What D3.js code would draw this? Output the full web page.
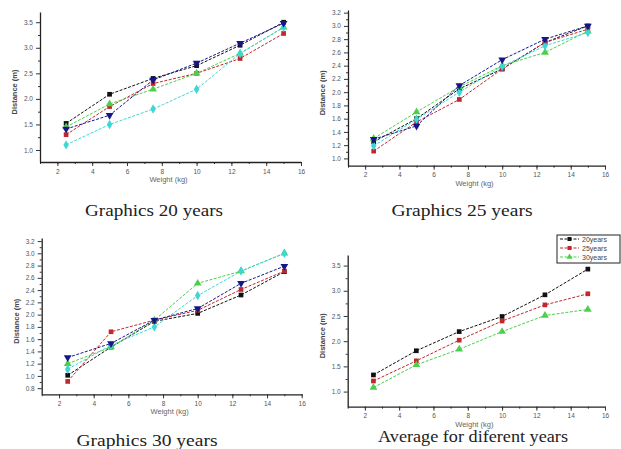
<!DOCTYPE html>
<html>
<head>
<meta charset="utf-8">
<style>
    body {
        margin: 0;
        background-color: #FFF;
    }
    svg text {
        font-family: "Liberation Sans", Arial, sans-serif;
        fill: #333;
    }
    .title {
        font-family: "Liberation Serif", "Times New Roman", serif !important;
        fill: #222 !important;
    }
</style>
</head>
<body>
<div id="chartArea"></div>
<script src="https://cdnjs.cloudflare.com/ajax/libs/d3/7.8.5/d3.min.js"></script>
<script>
    /* -----------------------------------
        data
    ----------------------------------- */
    var weights = [2.5, 5, 7.5, 10, 12.5, 15];
    var xTicks = [2, 4, 6, 8, 10, 12, 14, 16];

    // Graphics 20 years
    var g20Black = [1.52, 2.09, 2.40, 2.65, 3.05, 3.50];
    var g20Red   = [1.30, 1.85, 2.30, 2.50, 2.79, 3.28];
    var g20Blue  = [1.41, 1.68, 2.37, 2.70, 3.09, 3.48];
    var g20Green = [1.45, 1.90, 2.19, 2.50, 2.89, 3.40];
    var g20Cyan  = [1.10, 1.50, 1.80, 2.19, 2.89, 3.40];
    var yTicks20 = [1.0, 1.5, 2.0, 2.5, 3.0, 3.5];

    // Graphics 25 years
    var g25Black = [1.25, 1.60, 2.05, 2.35, 2.75, 3.00];
    var g25Red   = [1.11, 1.55, 1.89, 2.35, 2.75, 2.95];
    var g25Blue  = [1.29, 1.49, 2.10, 2.49, 2.80, 3.00];
    var g25Green = [1.30, 1.70, 2.08, 2.40, 2.60, 2.92];
    var g25Cyan  = [1.19, 1.59, 2.00, 2.39, 2.70, 2.90];
    var yTicks25 = [1.0, 1.2, 1.4, 1.6, 1.8, 2.0, 2.2, 2.4, 2.6, 2.8, 3.0, 3.2];

    // Graphics 30 years
    var g30Black = [1.01, 1.47, 1.89, 2.02, 2.32, 2.70];
    var g30Red   = [0.91, 1.72, 1.91, 2.07, 2.41, 2.71];
    var g30Blue  = [1.30, 1.53, 1.91, 2.10, 2.51, 2.79];
    var g30Green = [1.20, 1.47, 1.91, 2.51, 2.71, 3.00];
    var g30Cyan  = [1.11, 1.50, 1.80, 2.31, 2.71, 3.00];
    var yTicks30 = [0.8, 1.0, 1.2, 1.4, 1.6, 1.8, 2.0, 2.2, 2.4, 2.6, 2.8, 3.0, 3.2];

    // Average for different years
    var avgNames = ["20years", "25years", "30years"];
    var avg20 = [1.33, 1.81, 2.19, 2.49, 2.92, 3.43];
    var avg25 = [1.21, 1.61, 2.02, 2.40, 2.72, 2.94];
    var avg30 = [1.08, 1.53, 1.84, 2.19, 2.51, 2.63];
    var yTicksAvg = [1.0, 1.5, 2.0, 2.5, 3.0, 3.5];

    /* -----------------------------------
        styles
    ----------------------------------- */
    var sBlack = {color: "#111", symbol: d3.symbolSquare, rot: 0};
    var sRed   = {color: "#c0282d", symbol: d3.symbolSquare, rot: 0};
    var sBlue  = {color: "#16168a", symbol: d3.symbolTriangle, rot: 180};
    var sGreen = {color: "#4ccf4c", symbol: d3.symbolTriangle, rot: 0};
    var sCyan  = {color: "#3ed6d6", symbol: d3.symbolDiamond, rot: 0};

    var panels = [
        {left: 40, right: 301, top: 12, bottom: 162, yDomain: [0.765, 3.70], yTicks: yTicks20,
         title: "Graphics 20 years", tx: 154, ty: 216, tw: 138,
         series: [[g20Black, sBlack], [g20Red, sRed], [g20Green, sGreen], [g20Cyan, sCyan], [g20Blue, sBlue]]},
        {left: 348, right: 605, top: 10, bottom: 165.7, yDomain: [0.89, 3.24], yTicks: yTicks25,
         title: "Graphics 25 years", tx: 462, ty: 216, tw: 141,
         series: [[g25Black, sBlack], [g25Red, sRed], [g25Green, sGreen], [g25Cyan, sCyan], [g25Blue, sBlue]]},
        {left: 41.7, right: 301.7, top: 238, bottom: 394.3, yDomain: [0.70, 3.25], yTicks: yTicks30,
         title: "Graphics 30 years", tx: 147, ty: 446, tw: 141,
         series: [[g30Black, sBlack], [g30Red, sRed], [g30Green, sGreen], [g30Cyan, sCyan], [g30Blue, sBlue]]},
        {left: 347.7, right: 605, top: 255, bottom: 406.7, yDomain: [0.70, 3.71], yTicks: yTicksAvg,
         title: "Average for diferent years", tx: 473, ty: 442, tw: 190,
         series: [[avg20, sBlack], [avg25, sRed], [avg30, sGreen]], legend: true}
    ];

    /* -----------------------------------
        draw
    ----------------------------------- */
    var width = 621, height = 449;

    var svg = d3.select("#chartArea").append("svg")
        .attr("width", width)
        .attr("height", height);

    panels.forEach(function(p, pi) {
        var x = d3.scaleLinear().domain([1, 16]).range([p.left, p.right]);
        var y = d3.scaleLinear().domain(p.yDomain).range([p.bottom, p.top]);
        var g = svg.append("g");

        // minor ticks
        var xMinor = d3.range(1, 17, 1);
        g.append("g")
            .attr("transform", "translate(0," + p.bottom + ")")
            .call(d3.axisBottom(x).tickValues(xMinor).tickSize(2).tickFormat(""))
            .call(function(a) { a.select(".domain").remove(); });

        var step = p.yTicks[1] - p.yTicks[0];
        var yMinor = p.yTicks.map(function(t) { return t + step / 2; })
            .filter(function(t) { return t < p.yDomain[1]; });
        g.append("g")
            .attr("transform", "translate(" + p.left + ",0)")
            .call(d3.axisLeft(y).tickValues(yMinor).tickSize(2).tickFormat(""))
            .call(function(a) { a.select(".domain").remove(); });

        var xAxis = g.append("g")
            .attr("transform", "translate(0," + p.bottom + ")")
            .call(d3.axisBottom(x).tickValues(xTicks).tickSize(4).tickSizeOuter(0).tickPadding(3)
                .tickFormat(d3.format("d")));
        var yAxis = g.append("g")
            .attr("transform", "translate(" + p.left + ",0)")
            .call(d3.axisLeft(y).tickValues(p.yTicks).tickSize(4).tickSizeOuter(0).tickPadding(3)
                .tickFormat(d3.format(".1f")));

        [xAxis, yAxis].forEach(function(a) {
            a.selectAll("text").style("font-size", "6.5px").style("fill", "#555");
            a.selectAll("line").attr("stroke", "#333");
            a.select(".domain").attr("stroke", "#222").attr("stroke-width", 1.3);
        });
        g.selectAll("line").attr("stroke", "#333");

        // axis titles
        g.append("text")
            .attr("x", (p.left + p.right) / 2 - 2)
            .attr("y", p.bottom + 20)
            .attr("text-anchor", "middle")
            .style("font-size", "7.5px")
            .style("fill", "#666")
            .text("Weight (kg)");
        g.append("text")
            .attr("transform", "translate(" + (p.left - 23) + "," + ((p.top + p.bottom) / 2 + 5) + ") rotate(-90)")
            .attr("text-anchor", "middle")
            .style("font-size", "7.5px")
            .style("font-weight", "bold")
            .style("fill", "#444")
            .text("Distance (m)");

        // series
        var line = d3.line()
            .x(function(d, i) { return x(weights[i]); })
            .y(function(d) { return y(d); });

        p.series.forEach(function(s) {
            var vals = s[0], st = s[1];
            g.append("path")
                .datum(vals)
                .attr("d", line)
                .attr("fill", "none")
                .attr("stroke", st.color)
                .attr("stroke-width", 1)
                .attr("stroke-dasharray", "3,1.5");
            g.selectAll(null).data(vals).enter()
                .append("path")
                .attr("d", d3.symbol().type(st.symbol).size(st.symbol === d3.symbolSquare ? 22 : 26))
                .attr("transform", function(d, i) {
                    return "translate(" + x(weights[i]) + "," + y(d) + ") rotate(" + st.rot + ")";
                })
                .attr("fill", st.color);
        });

        // legend
        if (p.legend) {
            var lg = g.append("g").attr("transform", "translate(557,235)");
            lg.append("rect")
                .attr("width", 63).attr("height", 28)
                .attr("fill", "#fff").attr("stroke", "#222").attr("stroke-width", 1);
            p.series.forEach(function(s, i) {
                var st = s[1], ly = 4 + i * 9;
                lg.append("line")
                    .attr("x1", 3).attr("x2", 22).attr("y1", ly).attr("y2", ly)
                    .attr("stroke", st.color).attr("stroke-dasharray", "3,1.5");
                lg.append("path")
                    .attr("d", d3.symbol().type(st.symbol).size(16))
                    .attr("transform", "translate(12.5," + ly + ")")
                    .attr("fill", st.color);
                lg.append("text")
                    .attr("x", 25).attr("y", ly + 2.5)
                    .style("font-size", "7px")
                    .style("fill", "#444")
                    .text(avgNames[i]);
            });
        }

        // panel title
        g.append("text")
            .attr("class", "title")
            .attr("x", p.tx).attr("y", p.ty)
            .attr("text-anchor", "middle")
            .attr("textLength", p.tw)
            .attr("lengthAdjust", "spacingAndGlyphs")
            .style("font-size", "16px")
            .text(p.title);
    });
</script>
</body>
</html>
